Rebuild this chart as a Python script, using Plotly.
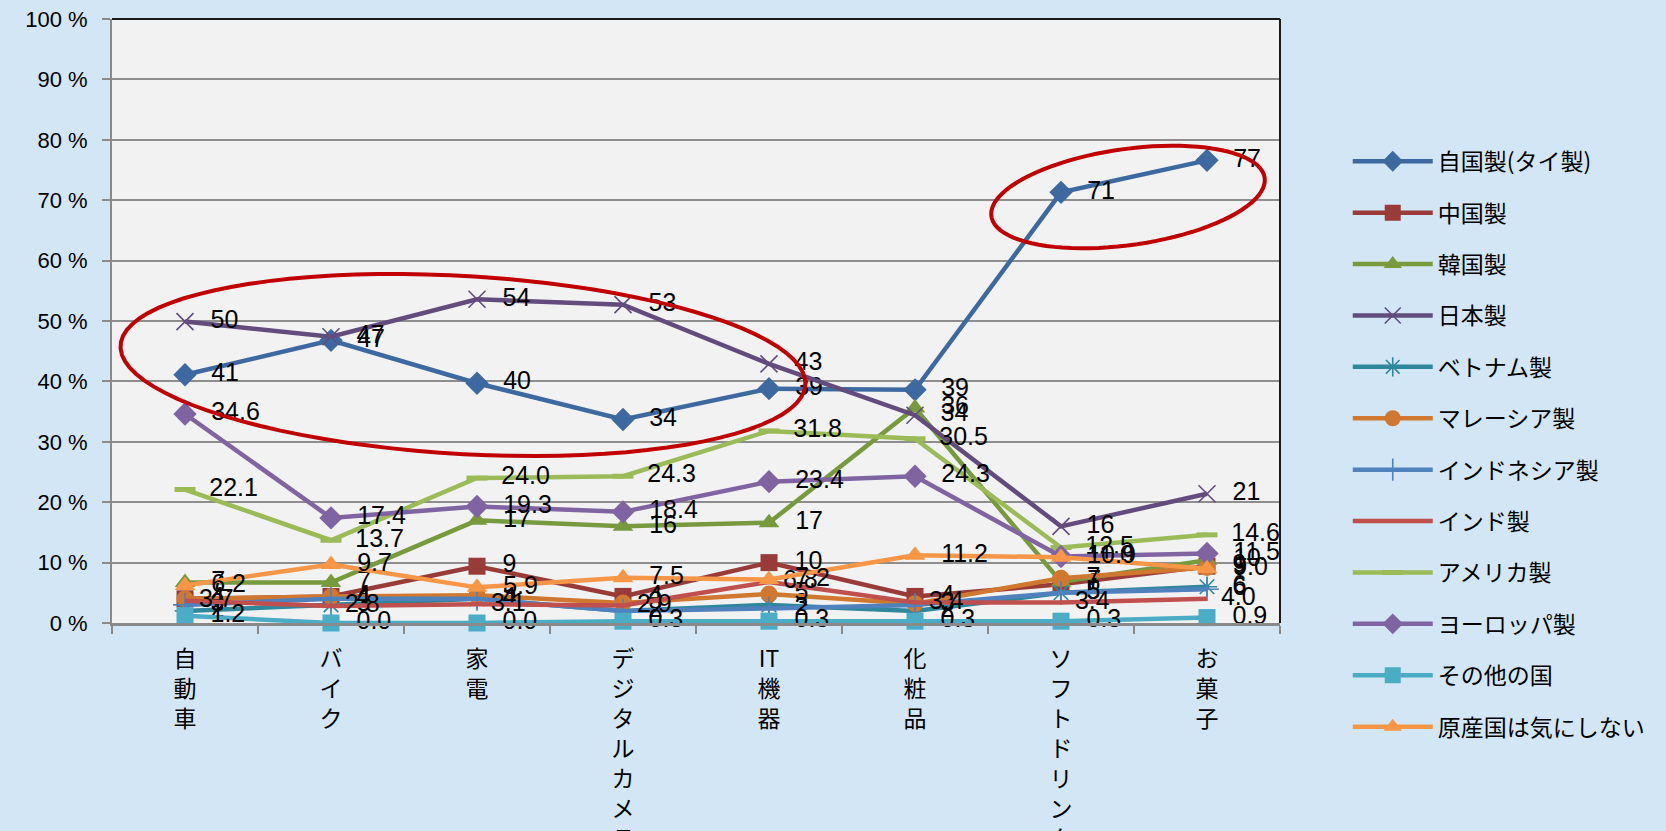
import numpy as np
import plotly.graph_objects as go

# ---------------- data ----------------
categories = ["自動車", "バイク", "家電", "デジタルカメラ", "IT機器", "化粧品", "ソフトドリンク", "お菓子"]
tick_tokens = [["自", "動", "車"], ["バ", "イ", "ク"], ["家", "電"],
               ["デ", "ジ", "タ", "ル", "カ", "メ", "ラ"], ["IT", "機", "器"],
               ["化", "粧", "品"], ["ソ", "フ", "ト", "ド", "リ", "ン", "ク"], ["お", "菓", "子"]]

series_names = ["自国製(タイ製)", "中国製", "韓国製", "日本製", "ベトナム製", "マレーシア製",
                "インドネシア製", "インド製", "アメリカ製", "ヨーロッパ製", "その他の国", "原産国は気にしない"]

thai = [41.1, 46.8, 39.7, 33.7, 38.8, 38.6, 71.3, 76.6]
china = [4.0, 4.4, 9.4, 4.4, 10.0, 4.4, 6.4, 9.4]
korea = [6.7, 6.7, 17.0, 16.0, 16.6, 35.6, 6.8, 10.4]
japan = [49.9, 47.4, 53.6, 52.7, 42.9, 34.4, 16.0, 21.4]
vietnam = [2.0, 3.0, 4.0, 2.0, 3.0, 2.0, 5.0, 6.0]
malaysia = [4.0, 4.4, 4.6, 3.3, 4.8, 3.2, 7.4, 9.2]
indonesia = [3.0, 4.0, 4.0, 2.0, 2.4, 3.0, 5.0, 5.6]
india = [3.7, 2.8, 3.1, 2.9, 6.8, 3.4, 3.4, 4.0]
usa = [22.1, 13.7, 24.0, 24.3, 31.8, 30.5, 12.5, 14.6]
europe = [34.6, 17.4, 19.3, 18.4, 23.4, 24.3, 11.0, 11.5]
other = [1.2, 0.0, 0.0, 0.3, 0.3, 0.3, 0.3, 0.9]
dontcare = [6.2, 9.7, 5.9, 7.5, 7.2, 11.2, 10.9, 9.0]

y_ticks = list(range(0, 101, 10))

# ---------------- styles ----------------
values = [thai, china, korea, japan, vietnam, malaysia, indonesia, india, usa, europe, other, dontcare]
colors = ["#3D69A0", "#993B38", "#789A3E", "#624C7E", "#2F879C", "#D0782F",
          "#4F81BD", "#C0504D", "#9BBB59", "#8064A2", "#4BACC6", "#F79646"]
symbols = ["diamond", "square", "triangle-up", "x-thin-open", "asterisk-open", "circle",
           "cross-thin-open", None, "line-ew-open", "diamond", "square", "triangle-up"]
sizes = [18, 17, 18, 17, 17, 17, 17, 0, 15, 18, 17, 18]
fmts = ["\u00a0\u00a0%{y:.0f}"] * 7 + ["\u00a0\u00a0%{y:.1f}"] * 5

fig = go.Figure()
for name, vals, col, sym, sz, fmt in zip(series_names, values, colors, symbols, sizes, fmts):
    marker = None
    mode = "lines+text"
    if sym is not None:
        mode = "lines+markers+text"
        if sym.endswith("-open"):
            marker = dict(symbol=sym, size=sz, color=col,
                          line=dict(color=col, width=5 if sym.startswith("line") else 1.6))
        else:
            marker = dict(symbol=sym, size=sz, color=col, line=dict(width=0))
    fig.add_trace(go.Scatter(
        x=categories, y=vals, name=name, mode=mode,
        line=dict(color=col, width=4.5),
        marker=marker,
        texttemplate=fmt, textposition="middle right",
        textfont=dict(size=25, color="black", family="Liberation Sans"),
        cliponaxis=False, legendgroup=name,
    ))

# ---------------- decorations: red ellipses ----------------
L, T, W, H = 112, 19, 1168, 604


def ellipse_path(cx, cy, a, b, theta_deg, n=90):
    t = np.linspace(0, 2 * np.pi, n)
    th = np.deg2rad(theta_deg)
    xs = cx + a * np.cos(t) * np.cos(th) - b * np.sin(t) * np.sin(th)
    ys = cy + a * np.cos(t) * np.sin(th) + b * np.sin(t) * np.cos(th)
    px = (xs - L) / W
    py = (T + H - ys) / H
    pts = [f"{x:.5f},{y:.5f}" for x, y in zip(px, py)]
    return "M" + " L".join(pts) + " Z"


shapes = [
    dict(type="path", xref="paper", yref="paper", path=ellipse_path(463, 365, 343, 89, 3.3),
         line=dict(color="#C00000", width=4)),
    dict(type="path", xref="paper", yref="paper", path=ellipse_path(1128, 197, 138, 48, -8),
         line=dict(color="#C00000", width=4)),
    dict(type="line", xref="paper", yref="paper", x0=0, x1=1, y0=1, y1=1,
         line=dict(color="#1a1a1a", width=2)),
    dict(type="line", xref="paper", yref="paper", x0=1, x1=1, y0=0, y1=1,
         line=dict(color="#1a1a1a", width=2)),
]

fig.update_layout(
    width=1666, height=831,
    margin=dict(l=L, r=1666 - L - W, t=T, b=831 - T - H, autoexpand=False),
    paper_bgcolor="#d3e6f5",
    plot_bgcolor="#f2f2f2",
    shapes=shapes,
    showlegend=True,
    legend=dict(x=1.058, xanchor="left", y=0.80, yanchor="top",
                font=dict(size=23, family="Noto Sans CJK JP", color="black"),
                bgcolor="rgba(0,0,0,0)", traceorder="grouped", tracegroupgap=18.5,
                itemwidth=80, maxheight=820),
    xaxis=dict(type="category", categoryorder="array", categoryarray=categories,
               tickvals=categories, ticktext=["<br>".join(t) for t in tick_tokens],
               tickfont=dict(size=23, family="Noto Sans CJK JP", color="black"),
               ticks="outside", tickson="boundaries", ticklen=8, tickcolor="#8a8a8a", tickwidth=1.5,
               showline=True, linecolor="#8a8a8a", linewidth=2.5, showgrid=False,
               ticklabelstandoff=14, range=[-0.5, 7.5]),
    yaxis=dict(range=[0, 100], tickvals=y_ticks, ticktext=[f"{v} %" for v in y_ticks],
               tickfont=dict(size=22, family="Liberation Sans", color="black"),
               ticks="outside", ticklen=8, tickcolor="#8a8a8a", tickwidth=1.5,
               showline=True, linecolor="#8a8a8a", linewidth=2,
               showgrid=True, gridcolor="#8e8e8e", gridwidth=1.5, zeroline=False,
               ticklabelstandoff=10),
)

fig.write_html("out.html", config={"displayModeBar": False},
               post_script="document.body.style.margin='0';document.body.style.background='#d3e6f5';")
